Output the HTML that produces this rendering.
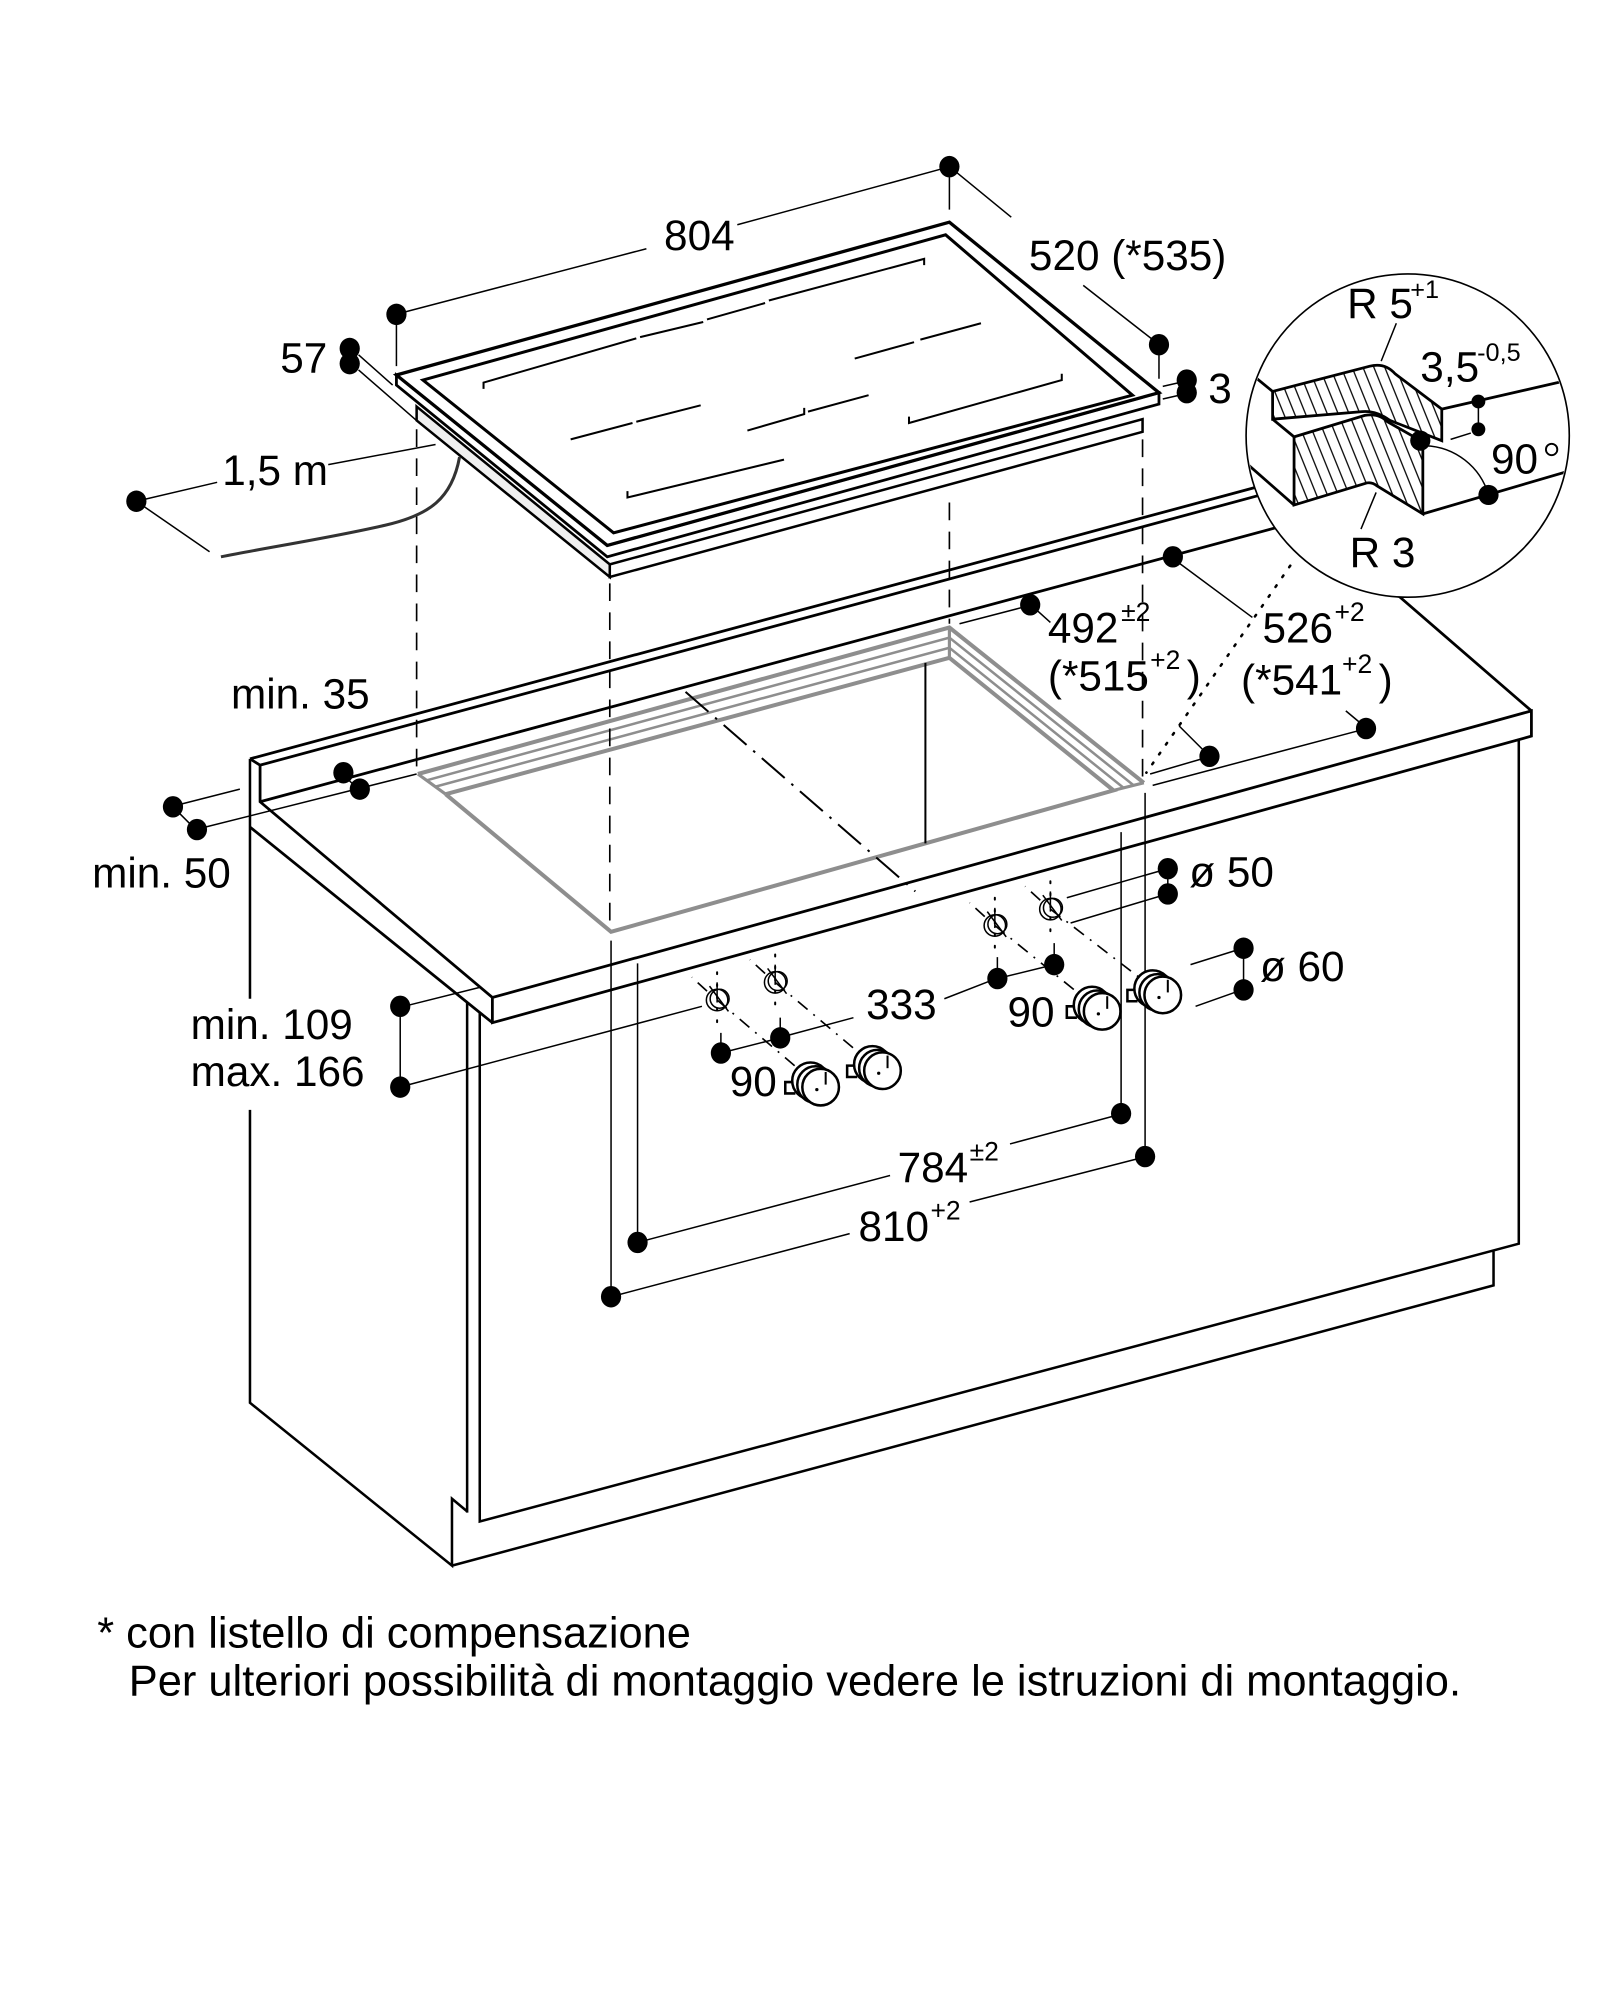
<!DOCTYPE html>
<html><head><meta charset="utf-8">
<style>
html,body{margin:0;padding:0;background:#fff;}
svg{display:block;}
text{font-family:"Liberation Sans",Arial,sans-serif;fill:#000;}
</style></head><body>
<svg width="1616" height="2000" viewBox="0 0 1280 1584" preserveAspectRatio="none" xmlns="http://www.w3.org/2000/svg">
<defs>
<pattern id="hat" patternUnits="userSpaceOnUse" width="8" height="8" patternTransform="rotate(-22)">
<line x1="4" y1="-2" x2="4" y2="10" stroke="#000" stroke-width="1"/>
</pattern>
<clipPath id="cc"><circle cx="1115" cy="345" r="127"/></clipPath>
</defs>

<!-- Countertop and cabinet -->
<g fill="none" stroke="#000" stroke-width="2.2">
<path d="M198,601 L1000,384.5 M206,606 L1000,391.6 M198,601 L206,606 L206,635 L390,790 L1213,563 L1213,583 L390,810 L390,790 M206,635 L1040,410 M1213,563 L1050,422 M198,655 L390,810"/>
<path d="M198,601 L198,791 M198,879 L198,1111 L358,1240 L358,1187 L370,1197 M370,794 L370,1198 M380,802 L380,1205 L1203,985 L1203,585 M358,1240 L1183,1018 L1183,990" stroke-width="2"/>
</g>

<!-- Cutout -->
<g stroke="#8e8e8e" fill="none">
<polyline stroke-width="3.2" points="331,613 752,497 906,620"/>
<polyline stroke-width="2" points="338,618 752,505 898,622"/>
<polyline stroke-width="2" points="345,623 752,513 890,624"/>
<polyline stroke-width="3.2" points="353,629 752,521 882,626 484,738 353,629"/>
<line x1="331" y1="613" x2="353" y2="629" stroke-width="2.5"/>
<line x1="752" y1="497" x2="752" y2="521" stroke-width="2.5"/>
<line x1="906" y1="620" x2="882" y2="626" stroke-width="2.5"/>
</g>
<line x1="733" y1="525" x2="733" y2="668" stroke="#000" stroke-width="1.6"/>
<line x1="543" y1="548" x2="725" y2="706" stroke="#000" stroke-width="1.6" stroke-dasharray="24 7 2 7"/>

<!-- dashed projection lines -->
<g stroke="#000" stroke-width="1.3" stroke-dasharray="14 9" fill="none">
<line x1="330" y1="340" x2="330" y2="608"/>
<line x1="483" y1="462" x2="483" y2="735"/>
<line x1="752" y1="398" x2="752" y2="494"/>
<line x1="905" y1="348" x2="905" y2="618"/>
</g>

<!-- Hob -->
<g stroke="#000" fill="#fff">
<polygon points="330,322 483,447 483,457 330,333" fill="#efefef" stroke-width="2"/>
<polygon points="483,447 905,332 905,342 483,457" stroke-width="2"/>
<polygon points="314,297 314,305 481,441 918,320 918,311 481,432" stroke-width="2.2"/>
<polygon points="314,297 752,176 918,311 481,432" stroke-width="2.6"/>
<polygon points="335,301 749,186 897,313 486,422" stroke-width="2.4" fill="none"/>
</g>
<g stroke="#000" stroke-width="1.6" fill="none">
<path d="M383,308 L383,303 L504,268 M507,267 L557,255 M560,253 L606,240 M609,238 L732,205 L732,210"/>
<path d="M677,284 L724,271 M729,269 L777,256"/>
<path d="M452,348 L501,335 M504,334 L555,321"/>
<path d="M592,341 L637,328 L637,323 M640,326 L688,313"/>
<path d="M720,330 L720,335 L841,301 L841,296"/>
<path d="M497,389 L497,394 L621,364"/>
</g>
<path d="M364,362 C358,395 340,408 305,416 C262,426 215,433 175,441" stroke="#333" stroke-width="2.4" fill="none"/>

<!-- Dimension lines -->
<g stroke="#000" stroke-width="1.2" fill="none">
<path d="M314,249 L314,290 M752,132 L752,166 M321,247 L512,197 M584,178 L745,134"/>
<path d="M757,136 L801,172 M858,226 L913,269 M918,273 L918,300"/>
<path d="M284,281 L311,305 M284,293 L331,334"/>
<path d="M921,306 L934,303 M921,316 L934,313"/>
<path d="M108,397 L172,382 M260,368 L345,352 M108,397 L166,437"/>
<path d="M760,494 L810,481 M822,484 L832,493 M934,575 L955,596 M911,613 L952,601"/>
<path d="M934,446 L992,489 M1066,563 L1078,573 M913,622 L1075,579"/>
<path d="M1022,448 L908,612" stroke-width="2" stroke-dasharray="1.5 8" stroke-linecap="round"/>
<path d="M272,614 L285,626 M155,657 L330,613 M137,639 L155,657 M143,637 L190,625"/>
<path d="M317,797 L317,861 M324,796 L380,782 M324,859 L556,797"/>
<path d="M925,688 L925,708 M918,690 L845,711 M918,710 L848,731"/>
<path d="M985,751 L985,784 M978,753 L943,764 M978,786 L947,797"/>
<path d="M571,834 L618,822 M571,818 L571,834 M618,806 L618,822 M624,820 L676,806 M748,791 L784,777 M790,775 L835,764 M790,758 L790,775 M835,747 L835,764"/>
<path d="M505,984 L705,931 M800,906 L882,884 M484,1027 L673,977 M768,952 L900,918"/>
<path d="M484,745 L484,1020 M505,763 L505,978 M888,659 L888,876 M907,628 L907,910"/>
</g>
<!-- centerlines for holes/knobs -->
<g stroke="#000" stroke-width="1.3" fill="none" stroke-dasharray="10 6 1.5 6">
<line x1="568" y1="792" x2="640" y2="853"/>
<line x1="614" y1="778" x2="689" y2="841"/>
<line x1="788" y1="733" x2="862" y2="793"/>
<line x1="832" y1="720" x2="910" y2="780"/>
<line x1="560" y1="785" x2="548" y2="774"/>
<line x1="606" y1="771" x2="594" y2="760"/>
<line x1="780" y1="726" x2="768" y2="715"/>
<line x1="824" y1="713" x2="812" y2="702"/>
</g>
<g stroke="#000" stroke-width="1.6" fill="none" stroke-dasharray="1.5 8" stroke-linecap="round">
<line x1="568" y1="770" x2="568" y2="815"/>
<line x1="614" y1="756" x2="614" y2="802"/>
<line x1="788" y1="711" x2="788" y2="754"/>
<line x1="832" y1="698" x2="832" y2="742"/>
</g>
<!-- holes -->
<g stroke="#000" stroke-width="1.2" fill="none">
<g transform="translate(568,792)"><circle r="8.5"/><circle cx="2" cy="-1" r="7.5"/><line x1="-6" y1="-11" x2="9" y2="9"/><line x1="0" y1="-14" x2="0" y2="2"/></g>
<g transform="translate(614,778)"><circle r="8.5"/><circle cx="2" cy="-1" r="7.5"/><line x1="-6" y1="-11" x2="9" y2="9"/><line x1="0" y1="-14" x2="0" y2="2"/></g>
<g transform="translate(788,733)"><circle r="8.5"/><circle cx="2" cy="-1" r="7.5"/><line x1="-6" y1="-11" x2="9" y2="9"/><line x1="0" y1="-14" x2="0" y2="2"/></g>
<g transform="translate(832,720)"><circle r="8.5"/><circle cx="2" cy="-1" r="7.5"/><line x1="-6" y1="-11" x2="9" y2="9"/><line x1="0" y1="-14" x2="0" y2="2"/></g>
</g>
<!-- knobs -->
<g stroke="#000" stroke-width="2" fill="#fff">
<g transform="translate(650,861)"><path d="M-20,-4 H-28 V5 H-20"/><circle cx="-8" cy="-5" r="14.5"/><circle cx="-4" cy="-2" r="14.5"/><circle r="14.5"/><line x1="4" y1="-12" x2="4" y2="-2" stroke-width="1.6"/><circle cx="-3" cy="2" r="1.3" fill="#000" stroke="none"/></g>
<g transform="translate(699,848)"><path d="M-20,-4 H-28 V5 H-20"/><circle cx="-8" cy="-5" r="14.5"/><circle cx="-4" cy="-2" r="14.5"/><circle r="14.5"/><line x1="4" y1="-12" x2="4" y2="-2" stroke-width="1.6"/><circle cx="-3" cy="2" r="1.3" fill="#000" stroke="none"/></g>
<g transform="translate(873,801)"><path d="M-20,-4 H-28 V5 H-20"/><circle cx="-8" cy="-5" r="14.5"/><circle cx="-4" cy="-2" r="14.5"/><circle r="14.5"/><line x1="4" y1="-12" x2="4" y2="-2" stroke-width="1.6"/><circle cx="-3" cy="2" r="1.3" fill="#000" stroke="none"/></g>
<g transform="translate(921,788)"><path d="M-20,-4 H-28 V5 H-20"/><circle cx="-8" cy="-5" r="14.5"/><circle cx="-4" cy="-2" r="14.5"/><circle r="14.5"/><line x1="4" y1="-12" x2="4" y2="-2" stroke-width="1.6"/><circle cx="-3" cy="2" r="1.3" fill="#000" stroke="none"/></g>
</g>

<!-- dots -->
<g fill="#000">
<ellipse cx="752" cy="132" rx="8" ry="8.5"/>
<ellipse cx="314" cy="249" rx="8" ry="8.5"/>
<ellipse cx="918" cy="273" rx="8" ry="8.5"/>
<ellipse cx="277" cy="276" rx="8" ry="8.5"/>
<ellipse cx="277" cy="288" rx="8" ry="8.5"/>
<ellipse cx="940" cy="301" rx="8" ry="8.5"/>
<ellipse cx="940" cy="311" rx="8" ry="8.5"/>
<ellipse cx="108" cy="397" rx="8" ry="8.5"/>
<ellipse cx="929" cy="441" rx="8" ry="8.5"/>
<ellipse cx="816" cy="479" rx="8" ry="8.5"/>
<ellipse cx="958" cy="599" rx="8" ry="8.5"/>
<ellipse cx="1082" cy="577" rx="8" ry="8.5"/>
<ellipse cx="272" cy="612" rx="8" ry="8.5"/>
<ellipse cx="285" cy="625" rx="8" ry="8.5"/>
<ellipse cx="137" cy="639" rx="8" ry="8.5"/>
<ellipse cx="156" cy="657" rx="8" ry="8.5"/>
<ellipse cx="317" cy="797" rx="8" ry="8.5"/>
<ellipse cx="317" cy="861" rx="8" ry="8.5"/>
<ellipse cx="925" cy="688" rx="8" ry="8.5"/>
<ellipse cx="925" cy="708" rx="8" ry="8.5"/>
<ellipse cx="985" cy="751" rx="8" ry="8.5"/>
<ellipse cx="985" cy="784" rx="8" ry="8.5"/>
<ellipse cx="571" cy="834" rx="8" ry="8.5"/>
<ellipse cx="618" cy="822" rx="8" ry="8.5"/>
<ellipse cx="790" cy="775" rx="8" ry="8.5"/>
<ellipse cx="835" cy="764" rx="8" ry="8.5"/>
<ellipse cx="888" cy="882" rx="8" ry="8.5"/>
<ellipse cx="907" cy="916" rx="8" ry="8.5"/>
<ellipse cx="505" cy="984" rx="8" ry="8.5"/>
<ellipse cx="484" cy="1027" rx="8" ry="8.5"/>
</g>

<!-- labels -->
<g font-size="33.5">
<text x="526" y="198">804</text>
<text x="815" y="214">520 (*535)</text>
<text x="222" y="295">57</text>
<text x="957" y="319">3</text>
<text x="176" y="384">1,5 m</text>
<text x="830" y="509">492</text>
<text x="830" y="547">(*515</text>
<text x="940" y="547">)</text>
<text x="1000" y="509">526</text>
<text x="983" y="550">(*541</text>
<text x="1092" y="550">)</text>
<text x="183" y="561">min. 35</text>
<text x="73" y="703">min. 50</text>
<text x="151" y="823">min. 109</text>
<text x="151" y="860">max. 166</text>
<text x="942" y="702">ø 50</text>
<text x="998" y="777">ø 60</text>
<text x="686" y="807">333</text>
<text x="578" y="868">90</text>
<text x="798" y="813">90</text>
<text x="711" y="936">784</text>
<text x="680" y="983">810</text>
</g>
<g font-size="21">
<text x="888" y="492">±2</text>
<text x="911" y="530">+2</text>
<text x="1057" y="492">+2</text>
<text x="1063" y="533">+2</text>
<text x="768" y="919">±2</text>
<text x="737" y="966">+2</text>
</g>

<!-- detail circle -->
<circle cx="1115" cy="345" r="128" fill="#fff" stroke="#000" stroke-width="1.3"/>
<g clip-path="url(#cc)">
<g stroke="#000" stroke-width="2.2" fill="none">
<path d="M970,279 L1008,310"/>
<path d="M1008,310 L1085,290 Q1097,287 1105,296 L1142,324 L1142,349 L1101,333 Q1090,325 1079,326 L1008,332 Z" fill="url(#hat)"/>
<path d="M1008,332 L1025,346"/>
<path d="M1025,346 L1081,329 Q1092,327 1099,334 L1127,350 L1127,407 L1091,385 Q1086,381 1081,383 L1025,400 Z" fill="url(#hat)"/>
<path d="M960,343 L1025,400"/>
<path d="M1127,407 L1260,368"/>
<path d="M1142,324 L1260,297"/>
</g>
<g stroke="#000" stroke-width="1.2" fill="none">
<path d="M1171,318 L1171,340 M1149,348 L1165,343"/>
<path d="M1129,353 A54,54 0 0,1 1179,392"/>
<path d="M1106,256 L1094,286 M1090,390 L1078,419"/>
</g>
<g fill="#000">
<circle cx="1171" cy="318" r="5.5"/>
<circle cx="1171" cy="340" r="5.5"/>
<circle cx="1125" cy="349" r="8"/>
<circle cx="1179" cy="392" r="8"/>
</g>
</g>
<circle cx="1229" cy="356" r="4.5" fill="none" stroke="#000" stroke-width="1.5"/>
<g font-size="33.5">
<text x="1067" y="252">R 5</text>
<text x="1125" y="302">3,5</text>
<text x="1181" y="375">90</text>
<text x="1069" y="449">R 3</text>
</g>
<g font-size="20">
<text x="1117" y="236">+1</text>
<text x="1170" y="286">-0,5</text>
</g>

<!-- footer -->
<g font-size="34.4">
<text x="77" y="1305">* con listello di compensazione</text>
<text x="102" y="1343">Per ulteriori possibilità di montaggio vedere le istruzioni di montaggio.</text>
</g>
</svg>
</body></html>
